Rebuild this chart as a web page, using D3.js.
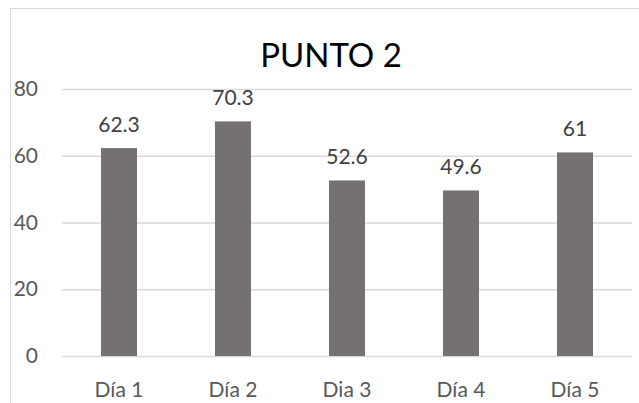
<!DOCTYPE html>
<html><head><meta charset="utf-8">
<script src="https://cdn.jsdelivr.net/npm/d3@7"></script>
<style>body{margin:0;background:#fff}svg{display:block}</style>
</head><body>
<svg id="c" width="639" height="403"></svg>
<script>
const categories = ["Día 1", "Día 2", "Dia 3", "Día 4", "Día 5"];
const values = [62.3, 70.3, 52.6, 49.6, 61];
const yTicks = [0, 20, 40, 60, 80];
const title = "PUNTO 2";

const svg = d3.select("#c");
const W = 639, H = 403;
const font = "Lato, 'Liberation Sans', sans-serif";
const m = {left: 62, right: 7, top: 89, bottom: 47};

// chart border (cut off at right and bottom)
svg.append("path").attr("d", `M10.5,${H}V8.5H${W}`).attr("fill","none").attr("stroke","#d9d9d9").attr("stroke-width",1);

const x = d3.scaleBand().domain(categories).range([m.left, W - m.right]).paddingInner(0.684).paddingOuter(0.342);
const y = d3.scaleLinear().domain([0, 80]).range([H - m.bottom, m.top]);

// grid
const yAxis = d3.axisLeft(y).tickValues(yTicks).tickSize(-(W - m.right - m.left)).tickPadding(24).tickFormat(d3.format("d"));
const gy = svg.append("g").attr("transform", `translate(${m.left},0)`).call(yAxis);
gy.select(".domain").remove();
gy.selectAll(".tick line").attr("stroke", "#d9d9d9").attr("stroke-width", 1.3);
gy.selectAll(".tick text").attr("fill", "#595959").attr("font-size", 21).attr("font-family", font);

// bars
svg.append("g").selectAll("rect").data(values).join("rect")
  .attr("x", (d,i) => x(categories[i]))
  .attr("width", x.bandwidth())
  .attr("y", d => y(d))
  .attr("height", d => y(0) - y(d))
  .attr("fill", "#767171");

// data labels
svg.append("g").selectAll("text").data(values).join("text")
  .attr("x", (d,i) => x(categories[i]) + x.bandwidth()/2)
  .attr("y", d => y(d) - 16)
  .attr("text-anchor", "middle")
  .attr("font-size", 21).attr("font-family", font).attr("fill", "#404040")
  .text(d => d3.format("")(d));

// x axis labels
const xAxis = d3.axisBottom(x).tickSize(0).tickPadding(26);
const gx = svg.append("g").attr("transform", `translate(0,${y(0)})`).call(xAxis);
gx.select(".domain").remove();
gx.selectAll(".tick text").attr("fill", "#595959").attr("font-size", 21).attr("font-family", font);

// title
svg.append("text").attr("x", 331).attr("y", 67).attr("text-anchor", "middle")
  .attr("font-size", 33).attr("font-family", font).attr("fill", "#000").text(title);
</script>
</body></html>
